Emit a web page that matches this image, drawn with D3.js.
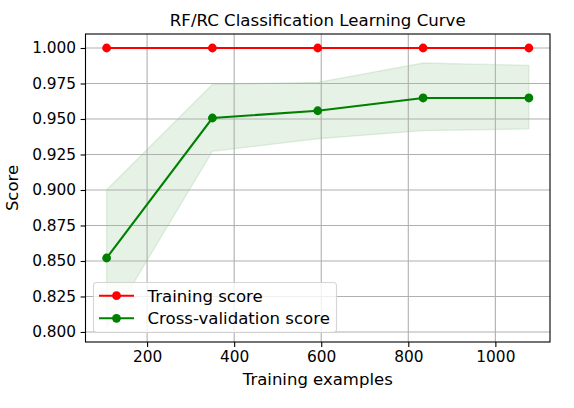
<!DOCTYPE html>
<html>
<head>
<meta charset="utf-8">
<script src="https://cdn.jsdelivr.net/npm/d3@7"></script>
<style>
  body { margin: 0; background: #fff; }
  svg { display: block; font-family: "DejaVu Sans", sans-serif; }
</style>
</head>
<body>
<svg id="chart" width="574" height="408"></svg>
<script>
// training set sizes and scores
const trainSizes = [107, 350, 592, 834, 1077];
const trainScore = [1.0, 1.0, 1.0, 1.0, 1.0];
const cvScore = [0.8521, 0.9507, 0.9558, 0.9648, 0.9648];
const cvUpper = [0.9002, 0.9744, 0.9758, 0.9894, 0.9878];
const cvLower = [0.8028, 0.9272, 0.9361, 0.9418, 0.9430];
const xTicks = [200, 400, 600, 800, 1000];
const yTicks = [0.800, 0.825, 0.850, 0.875, 0.900, 0.925, 0.950, 0.975, 1.000];

const svg = d3.select('#chart');
const plotLeft = 85.5, plotTop = 34, plotW = 464.5, plotH = 308;

// matplotlib style 5% margins
function padded(lo, hi) {
  let m = (hi - lo) * 0.05;
  return [lo - m, hi + m];
}

// scale font so the text ends up roughly as wide as in the original
function fitText(sel, width) {
  let node = sel.node(),
    size = parseFloat(sel.style('font-size')),
    w = node.getComputedTextLength();
  if (w > 0) sel.style('font-size', (size * width / w).toFixed(2) + 'px');
}

let x = d3.scaleLinear()
  .domain(padded(d3.min(trainSizes), d3.max(trainSizes)))
  .range([plotLeft, plotLeft + plotW]);
let y = d3.scaleLinear()
  .domain(padded(d3.min(cvLower), d3.max(trainScore.concat(cvUpper))))
  .range([plotTop + plotH, plotTop]);

svg.append('defs').append('clipPath').attr('id', 'clip')
  .append('rect')
  .attr('x', plotLeft).attr('y', plotTop)
  .attr('width', plotW).attr('height', plotH);

let plot = svg.append('g').attr('clip-path', 'url(#clip)');

// band for cross-validation std
let band = d3.area()
  .x((d, i) => x(trainSizes[i]))
  .y0((d, i) => y(cvLower[i]))
  .y1((d, i) => y(cvUpper[i]));
plot.append('path')
  .datum(cvScore)
  .attr('d', band)
  .attr('fill', 'rgba(0,128,0,0.1)')
  .attr('stroke', 'rgba(0,128,0,0.1)')
  .attr('stroke-width', 1.4);

// grid
plot.selectAll('.gx').data(xTicks).enter().append('line')
  .attr('x1', d => x(d)).attr('x2', d => x(d))
  .attr('y1', plotTop).attr('y2', plotTop + plotH)
  .attr('stroke', '#b0b0b0').attr('stroke-width', 1.1);
plot.selectAll('.gy').data(yTicks).enter().append('line')
  .attr('x1', plotLeft).attr('x2', plotLeft + plotW)
  .attr('y1', d => y(d)).attr('y2', d => y(d))
  .attr('stroke', '#b0b0b0').attr('stroke-width', 1.1);

let line = d3.line().x((d, i) => x(trainSizes[i])).y(d => y(d));

function series(values, color) {
  plot.append('path')
    .datum(values)
    .attr('d', line)
    .attr('fill', 'none')
    .attr('stroke', color)
    .attr('stroke-width', 2.1);
  plot.selectAll(null).data(values).enter().append('circle')
    .attr('cx', (d, i) => x(trainSizes[i]))
    .attr('cy', d => y(d))
    .attr('r', 4.4)
    .attr('fill', color);
}
series(trainScore, '#ff0000');
series(cvScore, '#008000');

// axes
let xAxis = svg.append('g')
  .attr('transform', `translate(0,${plotTop + plotH})`)
  .call(d3.axisBottom(x).tickValues(xTicks).tickSize(4.9).tickPadding(4.5).tickFormat(d3.format('d')));
let yAxis = svg.append('g')
  .attr('transform', `translate(${plotLeft},0)`)
  .call(d3.axisLeft(y).tickValues(yTicks).tickSize(4.9).tickPadding(4.5).tickFormat(d3.format('.3f')));
[xAxis, yAxis].forEach(a => {
  a.select('.domain').remove();
  a.selectAll('line').attr('stroke', '#000').attr('stroke-width', 1.1);
  a.selectAll('text')
    .attr('fill', '#000')
    .style('font-size', '15px')
    .style('font-family', '"DejaVu Sans", sans-serif');
});
// "1.000" is about 44px wide in the original
let probe = yAxis.select('.tick:last-of-type text');
fitText(probe, 44);
let tickSize = probe.style('font-size');
xAxis.selectAll('text').style('font-size', tickSize);
yAxis.selectAll('text').style('font-size', tickSize);

svg.append('rect')
  .attr('x', plotLeft).attr('y', plotTop)
  .attr('width', plotW).attr('height', plotH)
  .attr('fill', 'none')
  .attr('stroke', '#000')
  .attr('stroke-width', 1.1);

// labels
let title = svg.append('text')
  .attr('x', plotLeft + plotW / 2).attr('y', 25.7)
  .attr('text-anchor', 'middle')
  .style('font-size', '16px')
  .text('RF/RC Classification Learning Curve');
fitText(title, 296);

let xLabel = svg.append('text')
  .attr('x', plotLeft + plotW / 2).attr('y', 384.5)
  .attr('text-anchor', 'middle')
  .style('font-size', '16px')
  .text('Training examples');
fitText(xLabel, 150);

svg.append('text')
  .attr('transform', `translate(17.5,${plotTop + plotH / 2}) rotate(-90)`)
  .attr('text-anchor', 'middle')
  .style('font-size', xLabel.style('font-size'))
  .text('Score');

// legend
let legendItems = [
  { name: 'Training score', color: '#ff0000' },
  { name: 'Cross-validation score', color: '#008000' }
];
let legend = svg.append('g');
legend.append('rect')
  .attr('x', 93.5).attr('y', 282.5)
  .attr('width', 243).attr('height', 50)
  .attr('rx', 3)
  .attr('fill', 'rgba(255,255,255,0.8)')
  .attr('stroke', 'rgba(204,204,204,0.8)')
  .attr('stroke-width', 1.1);
let rows = legend.selectAll('g.item').data(legendItems).enter().append('g')
  .attr('transform', (d, i) => `translate(0,${295.7 + i * 22.6})`);
rows.append('line')
  .attr('x1', 99).attr('x2', 134)
  .attr('stroke', d => d.color).attr('stroke-width', 2.1);
rows.append('circle')
  .attr('cx', 116.5).attr('r', 4.4)
  .attr('fill', d => d.color);
let legendText = rows.append('text')
  .attr('x', 147.5).attr('dy', '0.35em')
  .style('font-size', '16px')
  .text(d => d.name);
// "Cross-validation score" runs to about x=330
fitText(d3.select(legendText.nodes()[1]), 182.5);
legendText.style('font-size', d3.select(legendText.nodes()[1]).style('font-size'));
</script>
</body>
</html>
